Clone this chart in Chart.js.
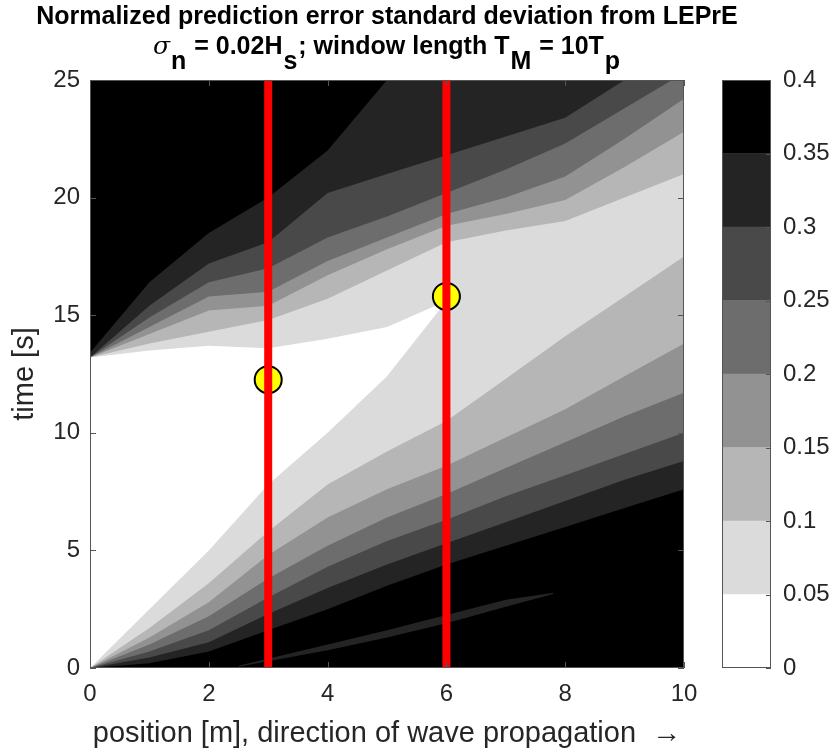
<!DOCTYPE html>
<html lang="en">
<head>
<meta charset="UTF-8">
<title>Normalized prediction error standard deviation</title>
<script src="https://cdn.jsdelivr.net/npm/chart.js@4"></script>
<style>
  body { margin: 0; background: #fff; font-family: 'Liberation Sans', Arial, sans-serif; }
  #wrap { position: relative; width: 835px; height: 756px; overflow: hidden; }
  canvas { position: absolute; top: 0; }
  #main { left: 0; }
  #cbar { left: 700px; }
  .title { position: absolute; left: 0; width: 774px; text-align: center; font-weight: bold; color: #000; font-size: 25px; white-space: nowrap; line-height: 28px; }
  #t1 { top: 1px; }
  #t2 { top: 31px; }
  .title sub { font-size: 1em; vertical-align: -0.6em; line-height: 0; margin: 0 1px; }
  .sig { font-family: 'DejaVu Serif', 'Liberation Serif', serif; font-style: italic; font-weight: normal; }
</style>
</head>
<body>
<div id="wrap">
  <canvas id="main" width="835" height="756"></canvas>
  <canvas id="cbar" width="135" height="756"></canvas>
  <div class="title" id="t1">Normalized prediction error standard deviation from LEPrE</div>
  <div class="title" id="t2"><span class="sig">σ</span><sub>n</sub> = 0.02H<sub>s</sub>; window length T<sub>M</sub> = 10T<sub>p</sub></div>
</div>
<script>
// position along the tank [m] where the contour edges were read
const positions = [0, 1, 2, 3, 4, 5, 6, 7, 8, 9, 10];
const whitePositions = [0, 1, 2, 3, 4, 5, 6];

// level edges and gray(8) colours
const levelEdges = [0, 0.05, 0.1, 0.15, 0.2, 0.25, 0.3, 0.35, 0.4];
const levelColors = ['#ffffff', '#dbdbdb', '#b6b6b6', '#929292', '#6d6d6d', '#494949', '#242424', '#000000'];

// time [s] of lower / upper edge of the zone where error < level
const lower005 = [0, 2.5, 5.0, 7.8, 10.0, 12.4, 15.6];
const upper005 = [13.2, 13.5, 13.7, 13.6, 14.0, 14.5, 15.6];
const lower010 = [0, 1.7, 3.6, 5.8, 7.8, 9.2, 10.5, 12.3, 14.1, 15.8, 17.5];
const upper010 = [13.2, 13.8, 14.3, 14.8, 15.7, 16.9, 18.1, 18.6, 19.0, 20.0, 21.0];
const lower015 = [0, 1.3, 2.8, 4.8, 6.4, 7.6, 8.6, 9.8, 11.0, 12.4, 13.8];
const upper015 = [13.2, 14.2, 15.2, 15.4, 16.7, 17.8, 18.8, 19.3, 19.9, 21.3, 22.8];
const lower020 = [0, 1.0, 2.2, 3.8, 5.2, 6.4, 7.4, 8.5, 9.6, 10.7, 11.7];
const upper020 = [13.2, 14.5, 15.8, 16.0, 17.3, 18.3, 19.3, 20.0, 20.9, 22.5, 24.2];
const lower025 = [0, 0.7, 1.6, 3.0, 4.3, 5.4, 6.3, 7.3, 8.2, 9.1, 10.0];
const upper025 = [13.2, 14.9, 16.4, 17.0, 18.3, 19.2, 20.2, 21.2, 22.3, 23.8, 25.3];
const lower030 = [0, 0.45, 1.1, 2.3, 3.4, 4.4, 5.3, 6.2, 7.1, 8.0, 8.8];
const upper030 = [13.2, 15.4, 17.2, 18.1, 20.2, 21.0, 21.8, 22.6, 23.4, 25.0, 26.0];
const lower035 = [0, 0.2, 0.7, 1.6, 2.5, 3.5, 4.4, 5.2, 6.0, 6.8, 7.6];
const upper035 = [13.4, 16.4, 18.5, 20.0, 22.0, 25.0, 26.5, 27.0, 27.0, 27.0, 27.0];

// thin 0.3-0.35 streak inside the black zone at the bottom
const streakPositions = [2.5, 4, 5, 6, 7, 7.8];
const streakLower = [0.05, 0.75, 1.3, 1.9, 2.6, 3.15];
const streakUpper = [0.1, 1.0, 1.6, 2.25, 2.9, 3.2];

// marked positions and the time of the circle on each
const markerPositions = [3, 6];
const markerTimes = [12.26, 15.8];

const xTicks = [0, 2, 4, 6, 8, 10];
const yTicks = [0, 5, 10, 15, 20, 25];
const cbTicks = [0, 0.05, 0.1, 0.15, 0.2, 0.25, 0.3, 0.35, 0.4];
const cbTickLabels = ['0', '0.05', '0.1', '0.15', '0.2', '0.25', '0.3', '0.35', '0.4'];

const textColor = '#262626';
const frameColor = '#555555';
const tickFont = { family: "'Liberation Sans', Arial, sans-serif", size: 24 };
const labelFont = { family: "'Liberation Sans', Arial, sans-serif", size: 29 };

// build the bands, darkest drawn first
const bands = [
    { xs: whitePositions, lo: lower005, hi: upper005, color: levelColors[0] },
    { xs: positions, lo: lower010, hi: upper010, color: levelColors[1] },
    { xs: positions, lo: lower015, hi: upper015, color: levelColors[2] },
    { xs: positions, lo: lower020, hi: upper020, color: levelColors[3] },
    { xs: positions, lo: lower025, hi: upper025, color: levelColors[4] },
    { xs: positions, lo: lower030, hi: upper030, color: levelColors[5] },
    { xs: positions, lo: lower035, hi: upper035, color: levelColors[6] },
    { xs: streakPositions, lo: streakLower, hi: streakUpper, color: levelColors[6] }
];

const datasets = [];
bands.forEach((b, k) => {
    const loIndex = datasets.length;
    datasets.push({
        data: b.xs.map((x, i) => ({ x: x, y: b.lo[i] })),
        borderColor: 'transparent', borderWidth: 0, pointRadius: 0, fill: false, order: k + 1
    });
    datasets.push({
        data: b.xs.map((x, i) => ({ x: x, y: b.hi[i] })),
        borderColor: 'transparent', borderWidth: 0, pointRadius: 0,
        fill: loIndex, backgroundColor: b.color, order: k + 1
    });
});

// red vertical lines at the marked positions
markerPositions.forEach(x => {
    datasets.push({
        data: [{ x: x, y: yTicks[0] }, { x: x, y: yTicks[yTicks.length - 1] }],
        borderColor: '#ff0000', borderWidth: 8, pointRadius: 0, fill: false, order: -2
    });
});

// yellow circles
datasets.push({
    data: markerPositions.map((x, i) => ({ x: x, y: markerTimes[i] })),
    showLine: false, pointRadius: 13.5, pointBackgroundColor: '#ffff00',
    pointBorderColor: '#000000', pointBorderWidth: 2, fill: false, order: -1
});

// black plot background, box and inward ticks
const plotFrame = {
    id: 'plotFrame',
    beforeDatasetsDraw(chart) {
        const { ctx, chartArea: a } = chart;
        ctx.save();
        ctx.fillStyle = levelColors[7];
        ctx.fillRect(a.left, a.top, a.width, a.height);
        ctx.restore();
    },
    afterDraw(chart) {
        const { ctx, chartArea: a, scales } = chart;
        ctx.save();
        ctx.strokeStyle = frameColor;
        ctx.lineWidth = 1;
        ctx.strokeRect(a.left + 0.5, a.top + 0.5, a.width - 1, a.height - 1);
        ctx.beginPath();
        xTicks.forEach(v => {
            const px = Math.round(scales.x.getPixelForValue(v)) + 0.5;
            ctx.moveTo(px, a.bottom); ctx.lineTo(px, a.bottom - 6);
            ctx.moveTo(px, a.top); ctx.lineTo(px, a.top + 6);
        });
        yTicks.forEach(v => {
            const py = Math.round(scales.y.getPixelForValue(v)) + 0.5;
            ctx.moveTo(a.left, py); ctx.lineTo(a.left + 6, py);
            ctx.moveTo(a.right, py); ctx.lineTo(a.right - 6, py);
        });
        ctx.stroke();
        ctx.restore();
    }
};

new Chart(document.getElementById('main'), {
    type: 'line',
    data: { datasets: datasets },
    options: {
        responsive: false,
        animation: false,
        events: [],
        elements: { line: { tension: 0 } },
        layout: { padding: { left: 0, right: 151, top: 80, bottom: 0 } },
        plugins: { legend: { display: false }, tooltip: { enabled: false } },
        scales: {
            x: {
                type: 'linear', min: 0, max: 10,
                afterBuildTicks: s => { s.ticks = xTicks.map(v => ({ value: v })); },
                afterFit: s => { s.height = 88; s.paddingLeft = 0; s.paddingRight = 0; },
                grid: { display: false, drawTicks: false },
                border: { display: false },
                ticks: { color: textColor, font: tickFont, padding: 12, maxRotation: 0 },
                title: {
                    display: true, text: 'position [m], direction of wave propagation  \u2192',
                    color: textColor, font: labelFont, padding: { top: 0, bottom: 5 }
                }
            },
            y: {
                type: 'linear', min: 0, max: 25,
                afterBuildTicks: s => { s.ticks = yTicks.map(v => ({ value: v })); },
                afterFit: s => { s.width = 90; s.paddingTop = 0; s.paddingBottom = 0; },
                grid: { display: false, drawTicks: false },
                border: { display: false },
                ticks: { color: textColor, font: tickFont, padding: 10 },
                title: {
                    display: true, text: 'time [s]', color: textColor, font: labelFont,
                    padding: { top: 8, bottom: 0 }
                }
            }
        }
    },
    plugins: [plotFrame]
});

// colour bar
const cbFrame = {
    id: 'cbFrame',
    afterDraw(chart) {
        const { ctx, chartArea: a, scales } = chart;
        ctx.save();
        ctx.strokeStyle = frameColor;
        ctx.lineWidth = 1;
        ctx.strokeRect(a.left + 0.5, a.top + 0.5, a.width - 1, a.height - 1);
        ctx.beginPath();
        cbTicks.forEach(v => {
            const py = Math.round(scales.y.getPixelForValue(v)) + 0.5;
            ctx.moveTo(a.right, py); ctx.lineTo(a.right - 5, py);
        });
        ctx.stroke();
        ctx.restore();
    }
};

new Chart(document.getElementById('cbar'), {
    type: 'bar',
    data: {
        labels: [''],
        datasets: levelColors.map((c, i) => ({
            data: [levelEdges[i + 1] - levelEdges[i]],
            backgroundColor: c, borderWidth: 0,
            barPercentage: 1, categoryPercentage: 1
        }))
    },
    options: {
        responsive: false,
        animation: false,
        events: [],
        layout: { padding: { left: 22, right: 0, top: 80, bottom: 88 } },
        plugins: { legend: { display: false }, tooltip: { enabled: false } },
        scales: {
            x: { display: false, stacked: true },
            y: {
                position: 'right', stacked: true, min: 0, max: 0.4,
                afterBuildTicks: s => { s.ticks = cbTicks.map(v => ({ value: v })); },
                afterFit: s => { s.width = 64; s.paddingTop = 0; s.paddingBottom = 0; },
                grid: { display: false, drawTicks: false },
                border: { display: false },
                ticks: { color: textColor, font: tickFont, padding: 12, callback: (v, i) => cbTickLabels[i] }
            }
        }
    },
    plugins: [cbFrame]
});
</script>
</body>
</html>
